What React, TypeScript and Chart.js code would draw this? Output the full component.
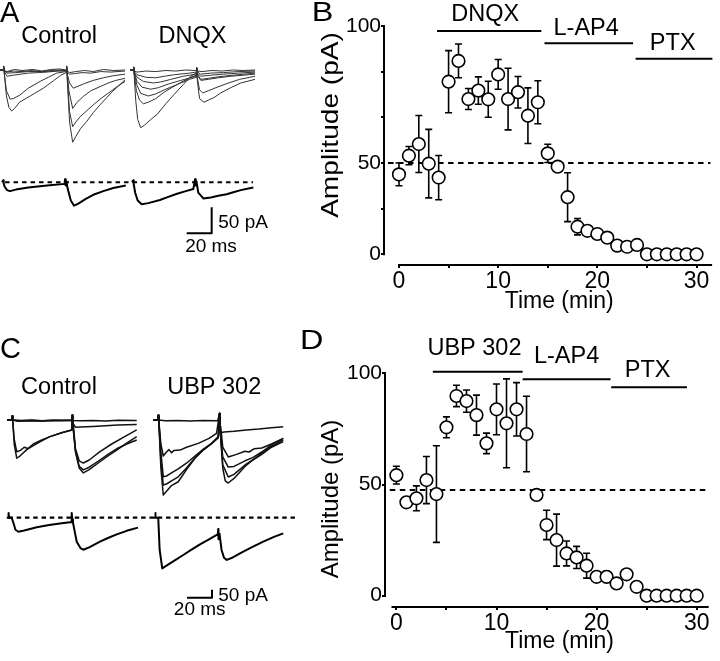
import React, { useEffect, useRef } from "react";
import { Chart, registerables } from "chart.js";

Chart.register(...registerables);

const FONT = "'Liberation Sans', Arial, Helvetica, sans-serif";
type Pt = [number, number];

// ---------------- Panel B (DNQX time course) ----------------
const bTime = [0, 1, 2, 3, 4, 5, 6, 7, 8, 9, 10, 11, 12, 13, 14, 15, 16, 17, 18, 19, 20, 21, 22, 23, 24, 25, 26, 27, 28, 29, 30];
const bAmplitude = [35.0, 43.2, 48.3, 39.7, 33.6, 75.6, 84.7, 68.0, 71.7, 67.9, 78.8, 68.0, 71.0, 60.7, 66.6, 44.2, 38.4, 25.0, 12.1, 10.3, 8.9, 7.3, 3.8, 3.3, 4.1, 0, 0, 0, 0, 0, 0];
const bError = [5, 4, 12.5, 15, 9.7, 13.6, 7.4, 4.6, 6, 7.9, 6.5, 13.5, 6.9, 12.2, 9.4, 4, 0, 10.7, 3.6, 0, 0, 0, 0, 0, 0, 0, 0, 0, 0, 0, 0];
const bYTicks = [0, 20, 40, 60, 80, 100];
const bYTickLabels = ["0", "", "50", "", "", "100"];
const bBaseline = 40;
const bDrugs = ["DNQX", "L-AP4", "PTX"];
const bDrugStart = [3.84, 14.67, 23.86];
const bDrugEnd = [14.35, 23.6, 31.6];
const bDrugLevel = [97.8, 92.4, 85.7];
const bDrugLabelTime = [8.7, 18.87, 27.6];
const bDrugLabelLevel = [102.3, 96.1, 89.5];

// ---------------- Panel D (UBP 302 time course) ----------------
const dTime = [0, 1, 2, 3, 4, 5, 6, 7, 8, 9, 10, 11, 12, 13, 14, 15, 16, 17, 18, 19, 20, 21, 22, 23, 24, 25, 26, 27, 28, 29, 30];
const dAmplitude = [54.2, 42.0, 43.8, 52.0, 45.7, 75.7, 89.8, 87.5, 81.2, 68.5, 83.8, 77.5, 83.8, 72.7, 45.3, 31.8, 25.0, 19.0, 17.2, 13.5, 8.5, 8.5, 5.5, 9.6, 4.0, 0, 0, 0, 0, 0, 0];
const dError = [4, 0, 5.6, 10.6, 21.7, 4.7, 4.8, 5, 9, 4.6, 11.4, 20, 12, 17, 0, 6.6, 11.7, 5.6, 5, 5.6, 0, 2.5, 0, 0, 0, 0, 0, 0, 0, 0, 0];
const dYTicks = [0, 50, 100];
const dYTickLabels = ["0", "50", "100"];
const dBaseline = 47.5;
const dDrugs = ["UBP 302", "L-AP4", "PTX"];
const dDrugStart = [3.64, 12.61, 21.46];
const dDrugEnd = [12.61, 21.39, 29.03];
const dDrugLevel = [100.7, 97.3, 93.7];
const dDrugLabelTime = [7.8, 17.0, 25.1];
const dDrugLabelLevel = [108.2, 104.5, 98.5];

const xTicks = [0, 5, 10, 15, 20, 25, 30];
const xTickLabels = ["0", "", "10", "", "20", "", "30"];

// ---------------- Panel A traces (ms, pA) ----------------
const aControlSweep1: Pt[] = [[-2.6, 0], [0, 0], [0.3, 8], [0.7, -4], [2.5, -50], [4.5, -72], [6.7, -79], [9, -74], [13, -62], [18.7, -54], [25, -45], [32, -35], [40, -21], [46, -10], [50.3, -5], [50.7, 8], [51.2, -20], [53, -100], [55.5, -139], [58, -128], [62, -112], [66.7, -99], [72, -82], [77.4, -67], [87, -42], [97.4, -19]];
const aControlSweep2: Pt[] = [[-2.6, 0], [0, 0], [0.3, 7], [0.7, -5], [2.5, -40], [5.5, -56], [8, -55], [13.4, -48], [20, -35], [29.4, -22], [36, -14], [42.7, -6], [50.3, -3], [50.7, 7], [51.2, -15], [53, -80], [55.5, -109], [58, -100], [61.4, -90], [66, -80], [72, -67], [78, -55], [85.4, -42], [91, -32], [97.4, -22]];
const aControlSweep3: Pt[] = [[-2.6, 0], [0, 0], [0.3, 6], [0.7, -3], [3, -12], [8, -10], [14, -8], [20, -6], [28, -5], [35, -4], [43, -2], [50.3, -2], [50.7, 6], [51.2, -10], [52.5, -40], [55.5, -74], [59, -62], [64, -51], [70, -40], [77.4, -32], [84, -25], [90, -20], [97.4, -16]];
const aControlSweep4: Pt[] = [[-2.6, 0], [0, 0], [0.3, 5], [0.7, -2], [3, -6], [10, -5], [20, -3], [30, -3], [40, -2], [50.3, -1], [50.7, 5], [51.2, -8], [53, -25], [56, -35], [60, -31], [65, -26], [72, -20], [80, -15], [88, -11], [97.4, -8]];
const aControlSweep5: Pt[] = [[-2.6, 1], [0, 0], [0.3, 4], [0.7, -2], [3, -4], [8, -2], [15, -3], [22, -1], [30, -3], [38, -1], [45, 0], [50.3, -1], [50.7, 4], [51.2, -4], [53, -8], [57, -7], [63, -5], [70, -6], [78, -3], [86, -4], [97.4, -2]];
const aControlSweep6: Pt[] = [[-2.6, -1], [0, 0], [0.3, 4], [0.7, -1], [3, -3], [9, 1], [15, -1], [24, 1], [31, -2], [38, 1], [45, 2], [50.3, 0], [50.7, 4], [51.2, -2], [53, -5], [58, -3], [65, -1], [72, -3], [80, 1], [88, -1], [97.4, 0]];

const aDnqxSweep1: Pt[] = [[-2.6, 0], [0, 0], [0.3, 6], [0.7, -10], [2, -60], [3.5, -95], [5.9, -111], [9, -106], [14, -95], [19.2, -85], [26, -65], [32.6, -47], [40, -28], [45.9, -12], [50.3, -6], [50.7, 5], [51.2, -20], [53, -55], [56.6, -62], [60, -58], [64.6, -53], [70, -44], [78, -34], [86, -25], [97.4, -18]];
const aDnqxSweep2: Pt[] = [[-2.6, 0], [0, 0], [0.3, 6], [0.7, -8], [2.5, -40], [5, -58], [8, -65], [12, -62], [18, -55], [25, -42], [35, -28], [45, -15], [50.3, -10], [50.7, 5], [51.2, -15], [53, -38], [55.5, -44], [60, -40], [66, -34], [75, -26], [85, -18], [97.4, -12]];
const aDnqxSweep3: Pt[] = [[-2.6, 0], [0, 0], [0.3, 5], [0.7, -6], [3, -30], [6, -45], [12, -50], [18, -46], [25, -38], [35, -28], [45, -18], [50.3, -14], [50.7, 4], [51.2, -10], [54, -20], [60, -18], [68, -15], [78, -12], [88, -10], [97.4, -8]];
const aDnqxSweep4: Pt[] = [[-2.6, 0], [0, 0], [0.3, 5], [0.7, -5], [3, -22], [7, -33], [14, -37], [20, -34], [28, -27], [38, -20], [50.3, -12], [50.7, 4], [51.2, -8], [54, -18], [60, -16], [68, -13], [80, -10], [97.4, -6]];
const aDnqxSweep5: Pt[] = [[-2.6, 0], [0, 0], [0.3, 5], [0.7, -4], [3, -14], [8, -22], [16, -25], [22, -23], [30, -18], [40, -12], [50.3, -8], [50.7, 4], [51.2, -6], [54, -12], [62, -10], [72, -8], [84, -6], [97.4, -4]];
const aDnqxSweep6: Pt[] = [[-2.6, 0], [0, 0], [0.3, 4], [0.7, -3], [3, -9], [10, -14], [18, -15], [25, -12], [33, -9], [45, -6], [50.3, -4], [50.7, 4], [51.2, -4], [54, -8], [62, -6], [72, -5], [84, -3], [97.4, -2]];
const aDnqxSweep7: Pt[] = [[-2.6, 1], [0, 0], [0.3, 4], [0.7, -2], [3, -4], [10, -2], [18, -3], [26, -1], [34, -2], [42, 0], [50.3, -1], [50.7, 3], [51.2, -2], [55, -3], [63, -1], [71, -2], [80, 0], [88, -1], [97.4, 0]];

const aControlAverage: Pt[] = [[-1, 0], [0, 4], [0.3, -2], [1, -8], [3, -15], [5.3, -17], [10, -14], [20, -10], [35, -6], [49, -3], [49.4, 6], [49.9, -6], [50.5, 2], [51.5, -12], [54, -35], [56.6, -45], [60, -41], [66, -32], [72, -24], [80, -17], [88, -11], [96, -7], [98, -6]];
const aDnqxAverage: Pt[] = [[-1, 0], [0, 4], [0.3, -3], [1.5, -20], [3.5, -35], [6.7, -42], [12, -40], [21.3, -34], [28, -28], [35, -22], [42, -17], [48, -13], [49.4, 6], [49.9, -6], [50.5, 2], [52, -20], [56, -31], [62, -29], [68, -26], [74.7, -23], [80, -19], [86, -15], [92, -12], [96, -10]];
const aBaseline: Pt[] = [[1.4, 0], [199.8, 0]];
const aScaleBar: Pt[] = [[42.7, -98], [62.7, -98], [62.7, -48]];

// ---------------- Panel C traces (ms, pA) ----------------
const cControlSweep1: Pt[] = [[-3.5, 0], [0, 0], [0.4, 25], [0.8, 0], [2, -150], [4, -239], [7, -222], [12, -185], [17.3, -160], [24, -130], [30.6, -104], [40, -80], [48, -62], [48.4, 30], [48.8, -10], [49.3, -60], [51, -200], [54, -300], [57.3, -331], [62, -310], [70.6, -261], [77, -225], [84, -188], [92, -145], [100, -104]];
const cControlSweep2: Pt[] = [[-3.5, 0], [0, 0], [0.4, 25], [0.8, 0], [2, -120], [4, -198], [7, -190], [10, -170], [13, -178], [17.3, -150], [24, -125], [30.6, -104], [40, -80], [48, -62], [48.4, 30], [48.8, -10], [49.3, -60], [51, -190], [54, -290], [57.3, -312], [62, -295], [70.6, -250], [77, -215], [84, -180], [92, -150], [100, -125]];
const cControlSweep3: Pt[] = [[-3.5, 0], [0, 0], [0.4, 25], [0.8, 0], [5, -8], [15, -5], [25, -6], [35, -3], [48, -3], [48.4, 30], [48.8, -10], [49.3, -30], [51, -180], [54, -255], [57.3, -269], [62, -250], [70.6, -198], [80, -150], [90, -105], [100, -62]];
const cControlSweep4: Pt[] = [[-3.5, 0], [0, 0], [0.4, 25], [0.8, 0], [5, -4], [15, -3], [25, -5], [35, -2], [48, -3], [48.4, 30], [48.8, -10], [49.3, -25], [51, -45], [55, -44], [65, -40], [75, -36], [85, -32], [100, -28]];
const cControlSweep5: Pt[] = [[-3.5, 0], [0, 0], [0.4, 25], [0.8, 0], [8, -3], [16, 0], [24, -4], [32, -1], [40, -3], [48, 0], [48.4, 30], [48.8, -3], [55, -5], [65, -3], [75, -6], [85, -2], [100, -3]];

const cUbpSweep1: Pt[] = [[-4.5, 0], [-1, 0], [-0.6, 30], [-0.2, 0], [1.5, -300], [3.4, -469], [6, -445], [10, -410], [15.4, -386], [22, -310], [28.8, -239], [35, -190], [42.2, -146], [47.4, -104], [48.4, 40], [48.8, -30], [49.3, -100], [51, -300], [53, -380], [55.4, -394], [60, -365], [68.8, -290], [75, -250], [82.2, -215], [90, -170], [99.4, -135]];
const cUbpSweep2: Pt[] = [[-4.5, 0], [-1, 0], [-0.6, 30], [-0.2, 0], [1.5, -250], [3.4, -406], [6, -400], [10, -380], [15.4, -355], [22, -300], [28.8, -235], [35, -190], [42.2, -146], [47.4, -108], [48.4, 40], [48.8, -30], [49.3, -100], [51, -280], [55.4, -356], [60, -340], [68.8, -281], [75, -250], [82.2, -208], [90, -165], [99.4, -125]];
const cUbpSweep3: Pt[] = [[-4.5, 0], [-1, 0], [-0.6, 30], [-0.2, 0], [1.5, -200], [3.4, -354], [6, -350], [10, -330], [15.4, -305], [22, -270], [28.8, -225], [35, -185], [42.2, -146], [47.4, -112], [48.4, 40], [48.8, -30], [49.3, -100], [51, -230], [55.4, -294], [60, -290], [68.8, -255], [75, -235], [82.2, -200], [90, -155], [99.4, -115]];
const cUbpSweep4: Pt[] = [[-4.5, 0], [-1, 0], [-0.6, 30], [-0.2, 0], [1.5, -150], [3.4, -225], [6, -200], [8, -185], [10, -205], [12, -190], [16.8, -188], [22, -170], [31.4, -146], [40, -115], [46, -83], [48.4, 40], [48.8, -30], [49.3, -80], [52, -75], [60, -70], [70, -62], [80, -56], [90, -48], [99.4, -42]];
const cUbpSweep5: Pt[] = [[-4.5, 0], [-1, 0], [-0.6, 30], [-0.2, 0], [5, -5], [15, -3], [25, -6], [35, -3], [47, -4], [48.4, 40], [48.8, -30], [49.3, -40], [51, -170], [55.4, -231], [62, -215], [68.8, -195], [72, -200], [76, -180], [82.2, -175], [90, -150], [99.4, -115]];

const cControlAverage: Pt[] = [[-4, 0], [-2.7, 0], [-2.5, 30], [-2.1, 0], [0, 0], [1.3, -30], [3, -75], [5.3, -87.5], [10, -80], [20, -60], [30, -45], [40, -35], [46.6, -29], [47.5, -29], [48, 30], [48.4, -10], [49, -30], [50, -70], [52, -150], [55, -190], [57.3, -200], [62, -185], [70.6, -150], [77, -127], [84, -104], [92, -82], [101, -62]];
const cUbpAverage: Pt[] = [[-4, 0], [-3.2, 0], [-3, 30], [-2.6, 0], [-0.6, 0], [0.5, -200], [2.6, -317], [6, -300], [12, -270], [19.4, -233], [26, -200], [32.8, -167], [40, -135], [46.2, -108], [47, -105], [47.4, -70], [47.6, -135], [48.4, -100], [50, -200], [52, -250], [54.2, -264], [58, -252], [64.8, -223], [74, -185], [83.4, -150], [92, -120], [99.4, -98]];
const cBaseline: Pt[] = [[-2.7, 0], [226.6, 0]];
const cScaleBar: Pt[] = [[22.4, -500], [42.4, -500], [42.4, -450]];

// ---------------- helpers ----------------
type TextItem = { text: string; x: number; y: number; size: number; align?: CanvasTextAlign; baseline?: CanvasTextBaseline; rot?: number; sx?: number };

function drawText(ctx: CanvasRenderingContext2D, t: TextItem) {
  ctx.save();
  ctx.translate(t.x, t.y);
  if (t.rot) ctx.rotate(t.rot);
  ctx.scale(t.sx ?? 1, 1);
  ctx.font = `${t.size}px ${FONT}`;
  ctx.fillStyle = "#000";
  ctx.textAlign = t.align ?? "center";
  ctx.textBaseline = t.baseline ?? "alphabetic";
  ctx.fillText(t.text, 0, 0);
  ctx.restore();
}

type TC = {
  time: number[]; amp: number[]; err: number[];
  yTicks: number[]; yTickLabels: string[];
  yMin: number; yMax: number; xMin: number; xMax: number;
  padTop: number; yWidth: number; xHeight: number;
  yAxisFrom: number; yAxisTo: number; xAxisFrom: number; xAxisTo: number;
  baseline: number; baseFrom: number; baseTo: number;
  drugs: string[]; drugStart: number[]; drugEnd: number[]; drugLevel: number[];
  labelTime: number[]; labelLevel: number[];
  texts: TextItem[];
};

function timeCourseConfig(p: TC): any {
  const decor = {
    id: "decor",
    beforeDatasetsDraw(chart: any) {
      const { ctx, chartArea: ca } = chart;
      const x = chart.scales.x, y = chart.scales.y;
      ctx.save();
      ctx.strokeStyle = "#000";
      ctx.lineWidth = 2;
      ctx.beginPath();
      ctx.moveTo(ca.left - 1, y.getPixelForValue(p.yAxisFrom) + 1);
      ctx.lineTo(ca.left - 1, y.getPixelForValue(p.yAxisTo) - 1);
      ctx.moveTo(x.getPixelForValue(p.xAxisFrom), ca.bottom + 1);
      ctx.lineTo(x.getPixelForValue(p.xAxisTo), ca.bottom + 1);
      ctx.stroke();
      ctx.setLineDash([5.5, 4.5]);
      ctx.beginPath();
      ctx.moveTo(x.getPixelForValue(p.baseFrom), y.getPixelForValue(p.baseline));
      ctx.lineTo(x.getPixelForValue(p.baseTo), y.getPixelForValue(p.baseline));
      ctx.stroke();
      ctx.setLineDash([]);
      ctx.lineWidth = 1.6;
      ctx.beginPath();
      p.time.forEach((t, i) => {
        const e = p.err[i];
        if (!e) return;
        const px = x.getPixelForValue(t);
        const y1 = y.getPixelForValue(p.amp[i] + e);
        const y2 = y.getPixelForValue(p.amp[i] - e);
        ctx.moveTo(px, y1); ctx.lineTo(px, y2);
        ctx.moveTo(px - 3.5, y1); ctx.lineTo(px + 3.5, y1);
        ctx.moveTo(px - 3.5, y2); ctx.lineTo(px + 3.5, y2);
      });
      ctx.stroke();
      ctx.lineWidth = 2;
      ctx.beginPath();
      p.drugs.forEach((_, i) => {
        const yy = y.getPixelForValue(p.drugLevel[i]);
        ctx.moveTo(x.getPixelForValue(p.drugStart[i]), yy);
        ctx.lineTo(x.getPixelForValue(p.drugEnd[i]), yy);
      });
      ctx.stroke();
      ctx.restore();
    },
    afterDraw(chart: any) {
      const { ctx } = chart;
      const x = chart.scales.x, y = chart.scales.y;
      p.drugs.forEach((d, i) => drawText(ctx, { text: d, x: x.getPixelForValue(p.labelTime[i]), y: y.getPixelForValue(p.labelLevel[i]), size: 23.5 }));
      p.texts.forEach((t) => drawText(ctx, t));
    },
  };
  return {
    type: "scatter",
    data: {
      datasets: [{
        data: p.time.map((t, i) => ({ x: t, y: p.amp[i] })),
        pointRadius: 6.3,
        pointBackgroundColor: "#fff",
        pointBorderColor: "#000",
        pointBorderWidth: 1.6,
        showLine: false,
        clip: false,
      }],
    },
    options: {
      animation: false,
      responsive: false,
      devicePixelRatio: 1,
      events: [],
      layout: { padding: { top: p.padTop, left: 0, right: 0, bottom: 0 } },
      plugins: { legend: { display: false }, tooltip: { enabled: false } },
      scales: {
        x: {
          type: "linear", min: p.xMin, max: p.xMax,
          afterBuildTicks: (s: any) => { s.ticks = xTicks.map((v) => ({ value: v })); },
          afterFit: (s: any) => { s.height = p.xHeight; },
          ticks: { autoSkip: false, maxRotation: 0, padding: 0, color: "#000", font: { family: FONT, size: 23 }, callback: (_v: any, i: number) => xTickLabels[i] },
          grid: { display: true, drawOnChartArea: false, drawTicks: true, tickLength: 4, lineWidth: 2, color: "#000" },
          border: { display: false },
        },
        y: {
          type: "linear", min: p.yMin, max: p.yMax,
          afterBuildTicks: (s: any) => { s.ticks = p.yTicks.map((v) => ({ value: v })); },
          afterFit: (s: any) => { s.width = p.yWidth; },
          ticks: { autoSkip: false, padding: 0, color: "#000", font: { family: FONT, size: 21 }, callback: (_v: any, i: number) => p.yTickLabels[i] },
          grid: { display: true, drawOnChartArea: false, drawTicks: true, tickLength: 4, lineWidth: 2, color: "#000" },
          border: { display: false },
        },
      },
    },
    plugins: [decor],
  };
}

type TraceSet = { data: Pt[]; x: string; y: string; width: number; color: string; dash?: number[] };

function traceConfig(sets: TraceSet[], scales: Record<string, { axis: string; min: number; max: number }>, texts: TextItem[]): any {
  const sc: any = {};
  Object.keys(scales).forEach((k) => {
    sc[k] = { type: "linear", axis: scales[k].axis, display: false, min: scales[k].min, max: scales[k].max };
  });
  return {
    type: "scatter",
    data: {
      datasets: sets.map((s) => ({
        data: s.data.map(([t, v]) => ({ x: t, y: v })),
        xAxisID: s.x, yAxisID: s.y,
        showLine: true, pointRadius: 0, borderColor: s.color, borderWidth: s.width,
        borderDash: s.dash ?? [], tension: 0, clip: false, borderJoinStyle: "round",
      })),
    },
    options: {
      animation: false,
      responsive: false,
      devicePixelRatio: 1,
      events: [],
      layout: { padding: 0 },
      plugins: { legend: { display: false }, tooltip: { enabled: false } },
      scales: sc,
    },
    plugins: [{ id: "texts", afterDraw(chart: any) { texts.forEach((t) => drawText(chart.ctx, t)); } }],
  };
}

function ChartCanvas({ make, left, top, width, height }: { make: () => any; left: number; top: number; width: number; height: number }) {
  const ref = useRef<HTMLCanvasElement>(null);
  useEffect(() => {
    const chart = new Chart(ref.current as HTMLCanvasElement, make());
    return () => chart.destroy();
  }, []);
  return <canvas ref={ref} width={width} height={height} style={{ position: "absolute", left, top, width, height }} />;
}

const thin = "#333";

const makeA = () => traceConfig(
  [
    ...[aControlSweep1, aControlSweep2, aControlSweep3, aControlSweep4, aControlSweep5, aControlSweep6].map((d) => ({ data: d, x: "xL", y: "yT", width: 1, color: thin })),
    ...[aDnqxSweep1, aDnqxSweep2, aDnqxSweep3, aDnqxSweep4, aDnqxSweep5, aDnqxSweep6, aDnqxSweep7].map((d) => ({ data: d, x: "xR", y: "yT", width: 1, color: thin })),
    { data: aBaseline, x: "xL", y: "yB", width: 2, color: "#000", dash: [4.5, 4] },
    { data: aControlAverage, x: "xL", y: "yB", width: 2, color: "#000" },
    { data: aDnqxAverage, x: "xR", y: "yB", width: 2, color: "#000" },
    { data: aScaleBar, x: "xR", y: "yB", width: 2, color: "#000" },
  ],
  {
    xL: { axis: "x", min: -2.64, max: 237.36 },
    xR: { axis: "x", min: -106.64, max: 133.36 },
    yT: { axis: "y", min: -500, max: 134.6 },
    yB: { axis: "y", min: -284, max: 350.6 },
  },
  [
    { text: "A", x: 0, y: 21.7, size: 29, align: "left" },
    { text: "Control", x: 59.2, y: 42.7, size: 23.5 },
    { text: "DNQX", x: 192.5, y: 42.7, size: 23.5 },
    { text: "50 pA", x: 218.3, y: 228.3, size: 19, align: "left" },
    { text: "20 ms", x: 211, y: 252, size: 19 },
  ],
);

const makeC = () => traceConfig(
  [
    ...[cControlSweep1, cControlSweep2, cControlSweep3, cControlSweep4, cControlSweep5].map((d) => ({ data: d, x: "xL", y: "yT", width: 1.5, color: "#111" })),
    ...[cUbpSweep1, cUbpSweep2, cUbpSweep3, cUbpSweep4, cUbpSweep5].map((d) => ({ data: d, x: "xR", y: "yT", width: 1.5, color: "#111" })),
    { data: cBaseline, x: "xL", y: "yB", width: 2.2, color: "#000", dash: [4.5, 3.8] },
    { data: cControlAverage, x: "xL", y: "yB", width: 2, color: "#000" },
    { data: cUbpAverage, x: "xR", y: "yB", width: 2, color: "#000" },
    { data: cScaleBar, x: "xR", y: "yB", width: 2, color: "#000" },
  ],
  {
    xL: { axis: "x", min: -9.36, max: 230.64 },
    xR: { axis: "x", min: -127.2, max: 112.8 },
    yT: { axis: "y", min: -1506.25, max: 562.5 },
    yB: { axis: "y", min: -895.6, max: 1173.1 },
  },
  [
    { text: "C", x: 0, y: 28.3, size: 29, align: "left" },
    { text: "Control", x: 59, y: 64.3, size: 23.5 },
    { text: "UBP 302", x: 214.2, y: 64.3, size: 23.5 },
    { text: "50 pA", x: 218.3, y: 270.5, size: 19, align: "left" },
    { text: "20 ms", x: 199.7, y: 285, size: 19 },
  ],
);

const makeB = () => timeCourseConfig({
  time: bTime, amp: bAmplitude, err: bError,
  yTicks: bYTicks, yTickLabels: bYTickLabels,
  yMin: -4.25, yMax: 100, xMin: -1.41, xMax: 31.57,
  padTop: 26, yWidth: 85, xHeight: 66,
  yAxisFrom: 0, yAxisTo: 100, xAxisFrom: 0, xAxisTo: 31.57,
  baseline: bBaseline, baseFrom: -1.1, baseTo: 31.4,
  drugs: bDrugs, drugStart: bDrugStart, drugEnd: bDrugEnd, drugLevel: bDrugLevel,
  labelTime: bDrugLabelTime, labelLevel: bDrugLabelLevel,
  texts: [
    { text: "B", x: 11.7, y: 20.7, size: 27, align: "left", sx: 1.2 },
    { text: "Amplitude (pA)", x: 31.7, y: 125, size: 24, baseline: "middle", rot: -Math.PI / 2, sx: 1.17 },
    { text: "Time (min)", x: 259.2, y: 308.3, size: 23 },
  ],
});

const makeD = () => timeCourseConfig({
  time: dTime, amp: dAmplitude, err: dError,
  yTicks: dYTicks, yTickLabels: dYTickLabels,
  yMin: -4.63, yMax: 100, xMin: -1.04, xMax: 31.54,
  padTop: 43.3, yWidth: 86, xHeight: 55,
  yAxisFrom: 0, yAxisTo: 100, xAxisFrom: -0.49, xAxisTo: 31.2,
  baseline: dBaseline, baseFrom: -0.66, baseTo: 31.2,
  drugs: dDrugs, drugStart: dDrugStart, drugEnd: dDrugEnd, drugLevel: dDrugLevel,
  labelTime: dDrugLabelTime, labelLevel: dDrugLabelLevel,
  texts: [
    { text: "D", x: 0, y: 19.3, size: 27, align: "left", sx: 1.2 },
    { text: "Amplitude (pA)", x: 31.7, y: 169, size: 24, baseline: "middle", rot: -Math.PI / 2 },
    { text: "Time (min)", x: 259.5, y: 318.3, size: 23 },
  ],
});

export default function App() {
  return (
    <div style={{ position: "absolute", left: 0, top: 0, width: 720, height: 661, background: "#fff", overflow: "hidden" }}>
      <ChartCanvas make={makeA} left={0} top={0} width={300} height={330} />
      <ChartCanvas make={makeB} left={300} top={0} width={420} height={330} />
      <ChartCanvas make={makeC} left={0} top={330} width={300} height={331} />
      <ChartCanvas make={makeD} left={300} top={330} width={420} height={331} />
    </div>
  );
}
